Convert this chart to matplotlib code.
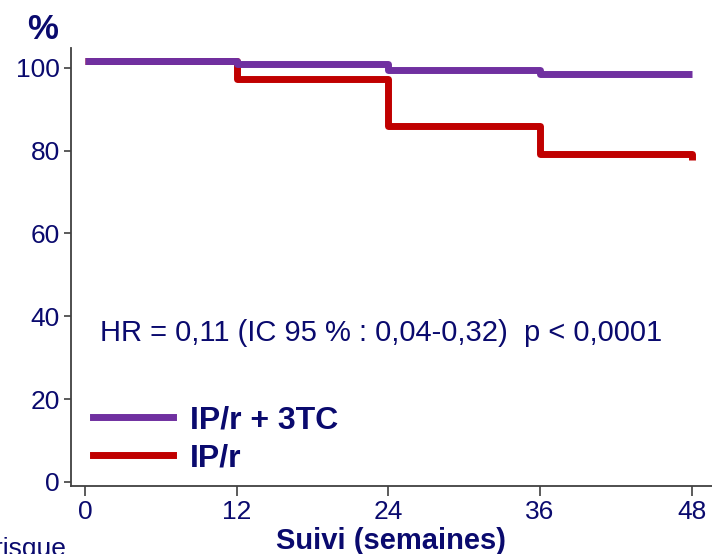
import matplotlib.pyplot as plt
from matplotlib.lines import Line2D

plt.rcParams['font.family'] = ['Liberation Sans', 'DejaVu Sans']

# survival data (weeks, %)
weeks = [0, 12, 24, 36, 48]
surv_3tc = [101.7, 100.9, 99.4, 98.6, 98.6]
weeks_ipr = [0, 12, 24, 36, 48, 48]
surv_ipr = [101.7, 97.3, 86.0, 79.2, 79.2, 77.8]

x_ticks = [0, 12, 24, 36, 48]
y_ticks = [0, 20, 40, 60, 80, 100]

navy = '#0A0A6E'
purple = '#7030A0'
red = '#C00000'

fig = plt.figure(figsize=(7.12, 5.54), dpi=100)
ax = fig.add_axes([0.0997, 0.1227, 0.9003, 0.7906])

ax.plot(weeks_ipr, surv_ipr, drawstyle='steps-post', color=red, lw=5, zorder=2,
        solid_joinstyle='round', solid_capstyle='butt')
ax.plot(weeks, surv_3tc, drawstyle='steps-post', color=purple, lw=5, zorder=3,
        solid_joinstyle='round', solid_capstyle='butt')

ax.set_xlim(-1.1, 49.6)
ax.set_ylim(-1, 104.8)
ax.set_xticks(x_ticks)
ax.set_yticks(y_ticks)

for s in ['top', 'right']:
    ax.spines[s].set_visible(False)
for s in ['left', 'bottom']:
    ax.spines[s].set_color('#404040')
    ax.spines[s].set_linewidth(1.3)

ax.tick_params(axis='both', colors='#404040', labelcolor=navy, labelsize=19, width=1.2)
ax.tick_params(axis='y', length=5, pad=3)
ax.tick_params(axis='x', length=7, pad=3)

ax.set_xlabel('Suivi (semaines)', fontsize=21, fontweight='bold', color=navy, labelpad=2)
fig.text(0.060, 0.947, '%', fontsize=25, fontweight='bold', color=navy, ha='center', va='center')
fig.text(0.093, -0.004, 'Patients à risque', fontsize=19, color=navy, ha='right', va='baseline')

ax.text(1.2, 36, 'HR = 0,11 (IC 95 % : 0,04-0,32)  p < 0,0001', fontsize=21, color=navy,
        ha='left', va='center')

handles = [Line2D([], [], color=purple, lw=5), Line2D([], [], color=red, lw=5)]
leg = ax.legend(handles, ['IP/r + 3TC', 'IP/r'], loc='center left', frameon=False,
                prop={'size': 23, 'weight': 'bold'}, handlelength=2.5, handletextpad=0.53,
                labelspacing=0.25, borderpad=0, borderaxespad=0,
                bbox_to_anchor=(0.034, 0.106))
for t in leg.get_texts():
    t.set_color(navy)

fig.savefig('out.png', dpi=100)
